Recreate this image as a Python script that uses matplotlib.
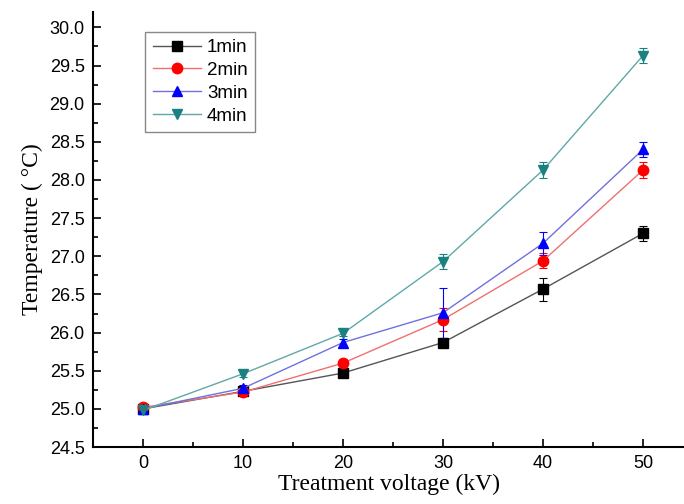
import matplotlib
matplotlib.use("Agg")
import matplotlib.pyplot as plt
from matplotlib.ticker import MultipleLocator, FormatStrFormatter

voltage = [0, 10, 20, 30, 40, 50]

temp_1min = [25.00, 25.23, 25.47, 25.87, 26.57, 27.30]
temp_2min = [25.02, 25.22, 25.60, 26.17, 26.94, 28.13]
temp_3min = [25.00, 25.27, 25.87, 26.26, 27.17, 28.40]
temp_4min = [24.98, 25.46, 25.99, 26.93, 28.13, 29.63]

err_1min = [0.03, 0.03, 0.04, 0.05, 0.15, 0.10]
err_2min = [0.04, 0.04, 0.06, 0.15, 0.10, 0.10]
err_3min = [0.03, 0.04, 0.05, 0.33, 0.15, 0.10]
err_4min = [0.03, 0.04, 0.04, 0.10, 0.10, 0.10]

labels = ["1min", "2min", "3min", "4min"]
colors = ["#000000", "#ff0000", "#0000ff", "#1a8080"]
line_colors = ["#555555", "#f07070", "#7070e0", "#60a8a8"]
markers = ["s", "o", "^", "v"]

series = [temp_1min, temp_2min, temp_3min, temp_4min]
errors = [err_1min, err_2min, err_3min, err_4min]

fig = plt.figure(figsize=(6.84, 5.04), dpi=100)
ax = fig.add_axes([0.136, 0.113, 0.864, 0.863])

handles = []
for vals, errs, lab, c, lc, m in zip(series, errors, labels, colors, line_colors, markers):
    eb = ax.errorbar(voltage, vals, yerr=errs, color=lc, ecolor=c, elinewidth=0.8,
                     capsize=3, capthick=0.8, linewidth=1.0, marker=m, markersize=7.5,
                     markerfacecolor=c, markeredgecolor=c, label=lab)
    handles.append(eb[0])

ax.set_xlim(-5, 54.1)
ax.set_ylim(24.5, 30.2)
ax.xaxis.set_major_locator(MultipleLocator(10))
ax.xaxis.set_minor_locator(MultipleLocator(5))
ax.yaxis.set_major_locator(MultipleLocator(0.5))
ax.yaxis.set_minor_locator(MultipleLocator(0.25))
ax.yaxis.set_major_formatter(FormatStrFormatter("%.1f"))

ax.spines["top"].set_visible(False)
ax.spines["right"].set_visible(False)
ax.spines["left"].set_linewidth(1.5)
ax.spines["bottom"].set_linewidth(1.5)
ax.tick_params(which="major", direction="in", length=6, width=1.2,
               labelsize=13, pad=6)
ax.tick_params(which="minor", direction="in", length=3.5, width=1.2)
for lbl in ax.get_xticklabels() + ax.get_yticklabels():
    lbl.set_fontfamily("Liberation Sans")

ax.set_xlabel("Treatment voltage (kV)", fontsize=17, family="Liberation Serif", labelpad=1)
ax.set_ylabel("Temperature ( \u00b0C)", fontsize=17, family="Liberation Serif", labelpad=5)

leg = ax.legend(handles, labels, loc="upper left", bbox_to_anchor=(0.088, 0.955),
                borderaxespad=0, prop={"family": "Liberation Sans", "size": 13.5},
                fancybox=False, handlelength=2.6, handletextpad=0.3,
                labelspacing=0.3, borderpad=0.4, framealpha=1)
leg.get_frame().set_edgecolor("#888888")
leg.get_frame().set_linewidth(1.0)

fig.savefig("out.png", dpi=100)
